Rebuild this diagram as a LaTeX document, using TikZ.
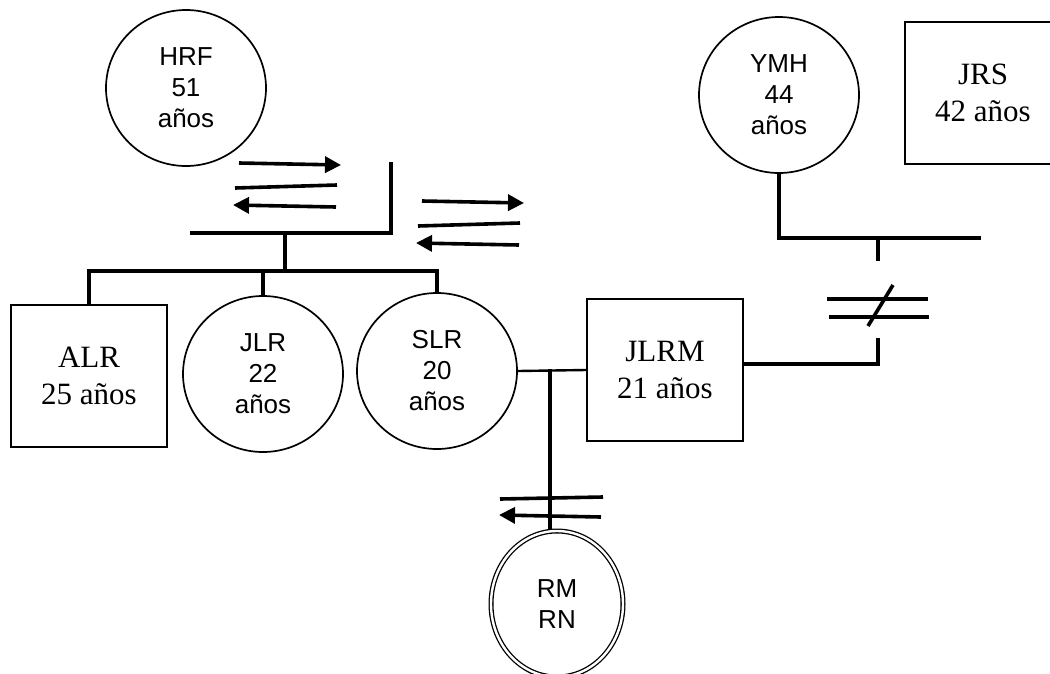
\documentclass[tikz,border=0pt]{standalone}
\usepackage{fontspec}
\setmainfont{Liberation Serif}
\setsansfont{Liberation Sans}
\usetikzlibrary{shapes.geometric,arrows.meta}

\tikzset{
  fem/.style={ellipse,draw,line width=1.7pt,minimum width=160pt,minimum height=156pt,inner sep=0pt,align=center,font=\sffamily\fontsize{26}{31}\selectfont},
  masc/.style={rectangle,draw,line width=2pt,minimum width=156pt,minimum height=142pt,inner sep=0pt,align=center,font=\fontsize{31}{37}\selectfont},
  rel/.style={line width=3.6pt},
  tie/.style={line width=2.4pt},
  flow/.style={line width=3.6pt,-{Triangle[length=16pt,width=16pt]}}
}

\begin{document}
\begin{tikzpicture}[x=1pt,y=-1pt]
        \useasboundingbox (0,0) rectangle (1050,673);
        % people
        \node[fem] (hrf) at (186,88) {HRF\\51\\años};
        \node[fem] (ymh) at (779,95) {YMH\\44\\años};
        \node[masc] (jrs) at (983,93) {JRS\\42 años};
        \node[masc] (alr) at (89,376) {ALR\\25 años};
        \node[fem] (jlr) at (263,374) {JLR\\22\\años};
        \node[fem] (slr) at (437,371) {SLR\\20\\años};
        \node[masc] (jlrm) at (665,370) {JLRM\\21 años};
        \node[fem,minimum width=132pt,minimum height=146pt,line width=1.3pt,double,double distance=2.4pt] (rm) at (557,604) {RM\\RN};
        % parents and siblings
        \coordinate (sib) at (285,271);
        \draw[rel] (190,233) -- (391,233) -- (391,162);
        \draw[rel] (285,233) -- (sib);
        \draw[rel] (alr.north) |- (sib) -| (slr.north);
        \draw[rel] (jlr.north) -- (jlr.north |- sib);
        \foreach \dx/\dy in {0/0,183/38} {
            \begin{scope}[shift={(\dx,\dy)}]
                \draw[flow] (239,163) -- (341,165);
                \draw[rel] (235,188) -- (337,185);
                \draw[flow] (336,207) -- (233,205);
            \end{scope}
        }
        % couple and child
        \draw[tie] (slr.east) -- (jlrm.west);
        \coordinate (kid) at (550,369);
        \draw[rel] (kid) -- (kid |- rm.north);
        \draw[rel] (500,499) -- (603,497);
        \draw[flow] (601,517) -- (499,515);
        % JLRM and his parents
        \coordinate (par) at (981,238);
        \draw[rel] (ymh.south) |- (par);
        \draw[rel] (878,238) -- (878,261);
        \draw[rel] (827,299) -- (928,299);
        \draw[rel] (829,317) -- (929,317);
        \draw[rel] (893,285) -- (868,326);
        \draw[rel] (878,338) |- ([yshift=6pt]jlrm.east);
    \end{tikzpicture}
\end{document}
